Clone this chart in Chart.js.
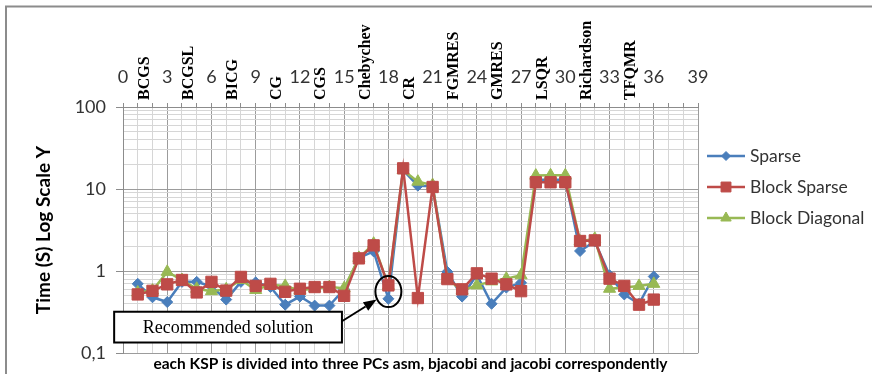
<!DOCTYPE html>
<html>
<head>
<meta charset="utf-8">
<script src="https://cdn.jsdelivr.net/npm/chart.js@4.4.0/dist/chart.umd.min.js"></script>
<style>
  html, body { margin: 0; padding: 0; background: #fff; }
  #wrap { width: 872px; height: 374px; }
</style>
</head>
<body>
<div id="wrap"><canvas id="ksp-chart" width="872" height="374"></canvas></div>
<script>
// KSP solvers, each one run with three PCs (asm, bjacobi, jacobi)
const KSP_NAMES = ['BCGS', 'BCGSL', 'BICG', 'CG', 'CGS', 'Chebychev', 'CR', 'FGMRES', 'GMRES', 'LSQR', 'Richardson', 'TFQMR'];
const RUN_INDEX = [1, 2, 3, 4, 5, 6, 7, 8, 9, 10, 11, 12, 13, 14, 15, 16, 17, 18,
                   19, 20, 21, 22, 23, 24, 25, 26, 27, 28, 29, 30, 31, 32, 33, 34, 35, 36];

// Time (s)
const SPARSE = [0.70, 0.48, 0.42, 0.74, 0.74, 0.65, 0.45, 0.74, 0.73, 0.64, 0.39, 0.49,
                0.38, 0.38, 0.60, 1.45, 1.74, 0.46, 17.0, 11.0, 10.8, 0.98, 0.49, 0.90,
                0.40, 0.63, 0.72, 13.0, 13.0, 13.0, 1.76, 2.30, 0.89, 0.52, 0.40, 0.86];
const BLOCK_SPARSE = [0.52, 0.575, 0.69, 0.78, 0.55, 0.74, 0.58, 0.85, 0.66, 0.70, 0.56, 0.61,
                      0.64, 0.64, 0.50, 1.43, 2.06, 0.67, 17.9, 0.47, 10.6, 0.80, 0.60, 0.94,
                      0.81, 0.69, 0.57, 12.1, 12.1, 12.1, 2.33, 2.37, 0.81, 0.66, 0.39, 0.45];
const BLOCK_DIAGONAL = [0.55, 0.58, 0.98, 0.78, 0.61, 0.57, 0.60, 0.78, 0.59, 0.68, 0.66, 0.58,
                        0.62, 0.64, 0.62, 1.45, 2.16, 0.66, 17.0, 12.3, 11.2, 0.80, 0.58, 0.67,
                        0.75, 0.81, 0.89, 14.6, 14.7, 14.7, 2.30, 2.48, 0.61, 0.63, 0.66, 0.70];

const Y_TICK_LABELS = { '0.1': '0,1', '1': '1', '10': '10', '100': '100' };

const BLUE = '#4A7EBB';
const RED = '#BE4B48';
const GREEN = '#98B954';
const GRID_MAJOR = '#9C9C9C';
const GRID_MINOR = '#D6D6D6';

Chart.defaults.font.family = 'Lato';

function toPoints(values) {
    return RUN_INDEX.map((x, i) => ({ x: x, y: values[i] }));
}

function isDecade(v) {
    const l = Math.log10(v);
    return Math.abs(l - Math.round(l)) < 1e-6;
}

// gray frame of the original chart object
const frame = {
    id: 'frame',
    beforeDraw(chart) {
        const ctx = chart.ctx;
        ctx.save();
        ctx.strokeStyle = '#8C8C8C';
        ctx.lineWidth = 2;
        ctx.beginPath();
        ctx.moveTo(6, chart.height);
        ctx.lineTo(6, 6.5);
        ctx.lineTo(chart.width, 6.5);
        ctx.stroke();
        ctx.restore();
    }
};

// rotated KSP names between the top tick numbers
const kspLabels = {
    id: 'kspLabels',
    afterDraw(chart) {
        const ctx = chart.ctx;
        const x = chart.scales.x;
        ctx.save();
        ctx.font = 'bold 16px "Liberation Serif"';
        ctx.fillStyle = '#000';
        ctx.textAlign = 'left';
        ctx.textBaseline = 'middle';
        KSP_NAMES.forEach((name, i) => {
            ctx.save();
            ctx.translate(x.getPixelForValue(i * 3 + 1.45), chart.chartArea.top - 7);
            ctx.rotate(-Math.PI / 2);
            ctx.fillText(name, 0, 0);
            ctx.restore();
        });
        ctx.restore();
    }
};

// legend on the right: line + marker + name
const sideLegend = {
    id: 'sideLegend',
    afterDraw(chart) {
        const ctx = chart.ctx;
        const left = chart.chartArea.right + 9;
        const midY = chart.height / 2;
        ctx.save();
        ctx.font = '17.5px Lato';
        ctx.textBaseline = 'middle';
        ctx.textAlign = 'left';
        chart.data.datasets.forEach((ds, i) => {
            const y = midY + (i - 1) * 31;
            ctx.strokeStyle = ds.borderColor;
            ctx.lineWidth = ds.borderWidth;
            ctx.beginPath();
            ctx.moveTo(left, y);
            ctx.lineTo(left + 38, y);
            ctx.stroke();
            ctx.fillStyle = ds.backgroundColor;
            ctx.lineWidth = 1;
            Chart.helpers.drawPoint(ctx, { pointStyle: ds.pointStyle, radius: ds.pointRadius - 1, rotation: 0, borderWidth: 1 }, left + 19, y);
            ctx.fillStyle = '#333';
            ctx.fillText(ds.label, left + 43, y);
        });
        ctx.restore();
    }
};

// "Recommended solution" box, arrow and circle (data coordinates)
const CALLOUT = { text: 'Recommended solution', x0: -0.6, x1: 14.85, yTop: 0.32, yBottom: 0.135 };
const ARROW = { fromX: 14.85, fromY: 0.245, toX: 17.2, toY: 0.45 };
const RING = { x: 18, y: 0.563, rx: 13, ry: 15.5 };

const callout = {
    id: 'callout',
    afterDraw(chart) {
        const ctx = chart.ctx;
        const xs = chart.scales.x;
        const ys = chart.scales.y;
        ctx.save();
        ctx.strokeStyle = '#000';
        ctx.lineWidth = 2;

        // circle round the chosen run
        ctx.beginPath();
        ctx.ellipse(xs.getPixelForValue(RING.x), ys.getPixelForValue(RING.y), RING.rx, RING.ry, 0, 0, Math.PI * 2);
        ctx.stroke();

        // arrow
        const ax0 = xs.getPixelForValue(ARROW.fromX), ay0 = ys.getPixelForValue(ARROW.fromY);
        const ax1 = xs.getPixelForValue(ARROW.toX), ay1 = ys.getPixelForValue(ARROW.toY);
        const ang = Math.atan2(ay1 - ay0, ax1 - ax0);
        const headLen = 13, headW = 5;
        const bx = ax1 - Math.cos(ang) * headLen, by = ay1 - Math.sin(ang) * headLen;
        ctx.beginPath();
        ctx.moveTo(ax0, ay0);
        ctx.lineTo(bx, by);
        ctx.stroke();
        ctx.fillStyle = '#000';
        ctx.beginPath();
        ctx.moveTo(ax1, ay1);
        ctx.lineTo(bx + Math.sin(ang) * headW, by - Math.cos(ang) * headW);
        ctx.lineTo(bx - Math.sin(ang) * headW, by + Math.cos(ang) * headW);
        ctx.closePath();
        ctx.fill();

        // box
        const bx0 = xs.getPixelForValue(CALLOUT.x0), bx1 = xs.getPixelForValue(CALLOUT.x1);
        const by0 = ys.getPixelForValue(CALLOUT.yTop), by1 = ys.getPixelForValue(CALLOUT.yBottom);
        ctx.fillStyle = '#fff';
        ctx.fillRect(bx0, by0, bx1 - bx0, by1 - by0);
        ctx.strokeRect(bx0, by0, bx1 - bx0, by1 - by0);
        ctx.fillStyle = '#000';
        ctx.font = '18px "Liberation Serif"';
        ctx.textAlign = 'center';
        ctx.textBaseline = 'middle';
        ctx.fillText(CALLOUT.text, (bx0 + bx1) / 2, (by0 + by1) / 2 + 1);
        ctx.restore();
    }
};

function makeDataset(label, values, color, style, radius, order) {
    return {
        label: label,
        data: toPoints(values),
        borderColor: color,
        backgroundColor: color,
        borderWidth: 2.5,
        pointStyle: style,
        pointRadius: radius,
        pointBorderWidth: 1,
        tension: 0,
        order: order
    };
}

const ctx = document.getElementById('ksp-chart').getContext('2d');

new Chart(ctx, {
    type: 'line',
    data: {
        datasets: [
            makeDataset('Sparse', SPARSE, BLUE, 'rectRot', 5.5, 3),
            makeDataset('Block Sparse', BLOCK_SPARSE, RED, 'rect', 8, 1),
            makeDataset('Block Diagonal', BLOCK_DIAGONAL, GREEN, 'triangle', 7, 2)
        ]
    },
    options: {
        responsive: false,
        animation: false,
        events: [],
        layout: { padding: { top: 0, right: 174, bottom: 0, left: 0 } },
        plugins: {
            legend: { display: false },
            tooltip: { enabled: false }
        },
        scales: {
            x: {
                type: 'linear',
                position: 'top',
                min: 0,
                max: 39,
                ticks: {
                    stepSize: 1,
                    autoSkip: false,
                    maxRotation: 0,
                    padding: 15,
                    color: '#333',
                    font: { size: 18 },
                    callback: v => (v % 3 === 0 ? v : '')
                },
                grid: {
                    color: c => (c.tick && c.tick.value % 3 === 0 ? GRID_MAJOR : GRID_MINOR),
                    tickLength: 4,
                    tickColor: '#8C8C8C'
                },
                border: { color: '#8C8C8C' },
                afterFit: s => { s.height = 107; }
            },
            x2: {
                type: 'linear',
                position: 'bottom',
                min: 0,
                max: 39,
                ticks: { display: false },
                grid: { display: false, drawTicks: false },
                border: { display: false },
                title: {
                    display: true,
                    text: 'each KSP is divided into three PCs asm, bjacobi and jacobi correspondently',
                    color: '#000',
                    font: { size: 15.5, weight: 'bold' },
                    padding: { top: 0, bottom: 0 }
                },
                afterFit: s => { s.height = 20; }
            },
            y: {
                type: 'logarithmic',
                min: 0.1,
                max: 100,
                afterBuildTicks: axis => {
                    const ticks = [];
                    for (let e = -1; e <= 1; e++) {
                        for (let m = 1; m <= 9; m++) ticks.push({ value: +(m * Math.pow(10, e)).toFixed(3) });
                    }
                    ticks.push({ value: 100 });
                    axis.ticks = ticks;
                },
                ticks: {
                    autoSkip: false,
                    padding: 10,
                    color: '#333',
                    font: { size: 18 },
                    callback: v => Y_TICK_LABELS[String(v)] || ''
                },
                grid: {
                    color: c => (c.tick && isDecade(c.tick.value) ? GRID_MAJOR : GRID_MINOR),
                    tickLength: 7,
                    tickColor: c => (c.tick && isDecade(c.tick.value) ? '#8C8C8C' : 'rgba(0,0,0,0)')
                },
                border: { color: '#8C8C8C' },
                title: {
                    display: true,
                    text: 'Time (S) Log Scale Y',
                    color: '#000',
                    font: { size: 19, weight: 'bold' },
                    padding: { top: 32, bottom: 0 }
                },
                afterFit: s => { s.width = 123; }
            }
        }
    },
    plugins: [frame, kspLabels, sideLegend, callout]
});
</script>
</body>
</html>
